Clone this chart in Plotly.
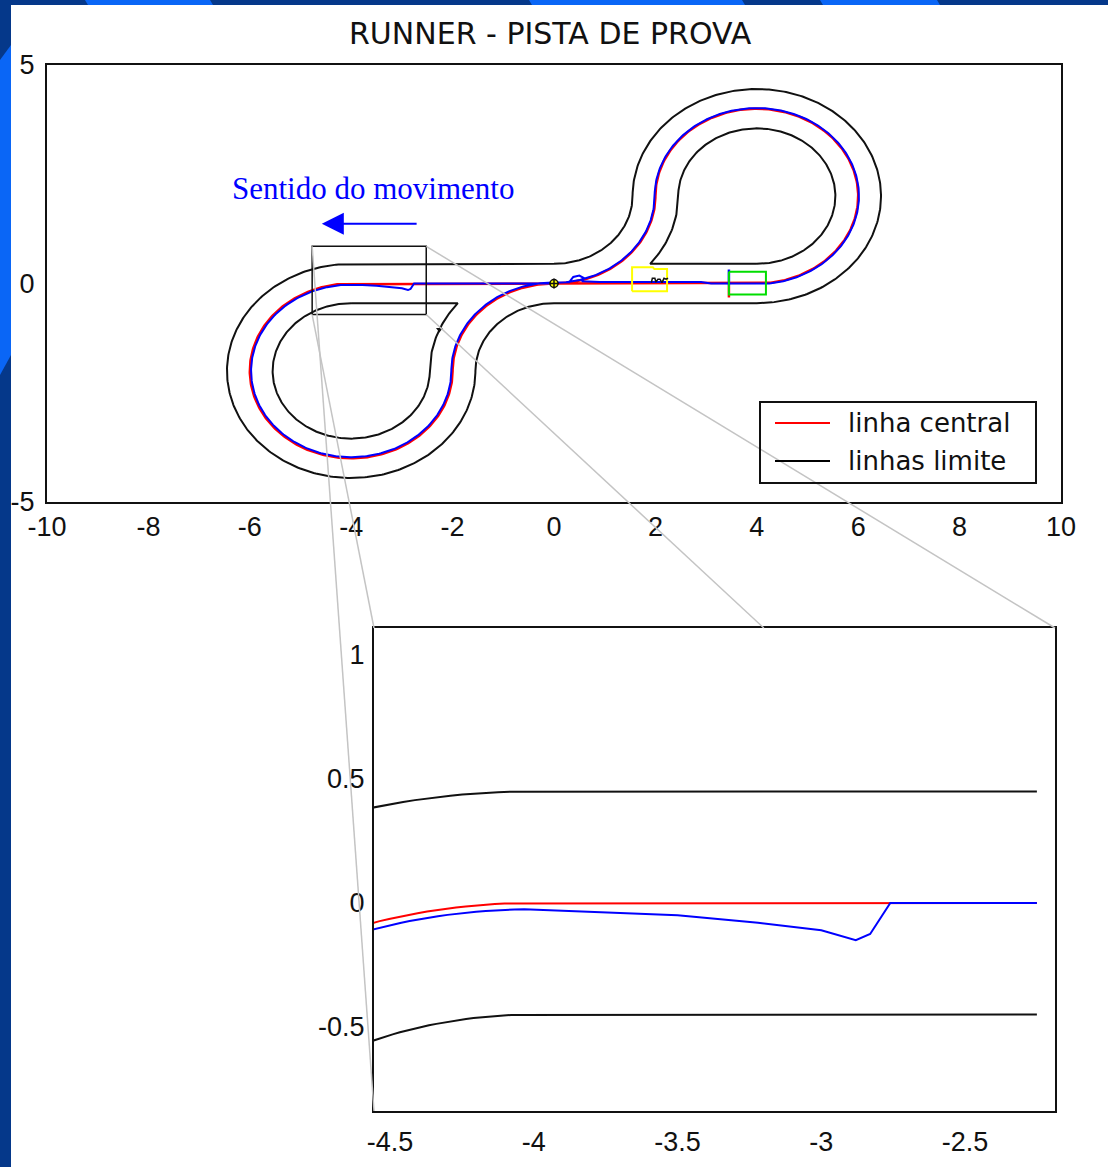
import numpy as np
import plotly.graph_objects as go

W, H = 1108, 1167

# ---------------- text ----------------
TITLE = "RUNNER - PISTA DE PROVA"
DIRECTION_LABEL = "Sentido do movimento"
LEGEND_LABELS = ["linha central", "linhas limite"]
LEGEND_COLORS = ["#ff0000", "#000000"]

# ---------------- axes ----------------
TOP_X_RANGE = [-10, 10]
TOP_Y_RANGE = [-5, 5]
TOP_X_TICKS = [-10, -8, -6, -4, -2, 0, 2, 4, 6, 8, 10]
TOP_Y_TICKS = [-5, 0, 5]
ZOOM_X_RANGE = [-4.556, -2.187]
ZOOM_Y_RANGE = [-0.839, 1.109]
ZOOM_X_TICKS = [-4.5, -4, -3.5, -3, -2.5]
ZOOM_Y_TICKS = [-0.5, 0, 0.5, 1]

# ---------------- track geometry (centre line) ----------------
HALF_WIDTH = 0.45
STRAIGHT_X = [-4, 4]                 # shared straight on y = 0
LOOP_CX = [-4, 0, 4, 0]              # arc centres
LOOP_CY = [-2, -2, 2, 2]
LOOP_R = [2, 2, 2, 2]
LOOP_A0 = [90, 180, -90, 0]          # start angle (deg)
LOOP_A1 = [360, 90, 180, -90]        # end angle (deg)

# ---------------- runner trajectory (blue) ----------------
BLUE_WEST_X = [0, -2.76, -2.83, -2.88, -3.0, -3.22, -3.5, -3.78, -4.0]
BLUE_WEST_Y = [0, 0, -0.125, -0.15, -0.11, -0.08, -0.05, -0.036, -0.025]
BLUE_LOOP_R = [1.975, 2.025, 2.015, 1.985]
BLUE_EAST_X = [0, 0.3, 0.38, 0.5, 0.6, 0.55, 0.9, 2.9, 3.1, 4.0]
BLUE_EAST_Y = [0.025, 0.03, 0.15, 0.18, 0.12, 0.05, 0.035, 0.035, 0, 0]
ZOOM_END_X = -2.25

# ---------------- markers ----------------
START_LINE_X = [3.45, 3.45]
START_LINE_BLUE_Y = [0.32, -0.05]
START_LINE_RED_Y = [-0.05, -0.32]
YELLOW_BOX_X = [1.54, 1.54, 1.95, 1.98, 2.23, 2.23, 1.54]
YELLOW_BOX_Y = [-0.18, 0.37, 0.37, 0.33, 0.33, -0.18, -0.18]
GREEN_BOX_X = [3.45, 4.18, 4.18, 3.45, 3.45]
GREEN_BOX_Y = [0.27, 0.27, -0.25, -0.25, 0.27]
SQUIGGLE_X = [1.92, 1.94, 1.99, 2.01, 2.05, 2.09, 2.13, 2.17, 2.21, 2.25]
SQUIGGLE_Y = [0.02, 0.12, 0.12, 0.03, 0.1, 0.1, 0.02, 0.12, 0.1, 0.12]
ORIGIN_MARK = (0, 0)
INNER_MARK = (-2.26, -1.05)
ZOOM_BOX_X = [-4.77, -2.52]
ZOOM_BOX_Y = [-0.71, 0.85]
ARROW_TAIL = (-2.68, 1.37)
ARROW_HEAD = (-4.58, 1.37)
GUIDE_FROM = [(-4.77, 0.85), (-4.77, -0.71), (-2.52, 0.85), (-2.52, -0.71)]
GUIDE_TO = [(ZOOM_X_RANGE[0], ZOOM_Y_RANGE[0]), (ZOOM_X_RANGE[0], ZOOM_Y_RANGE[1]),
            (ZOOM_X_RANGE[1], ZOOM_Y_RANGE[1]), (-3.2, ZOOM_Y_RANGE[1])]

# ---------------- layout (pixels) ----------------
TOP_DOM_X = [47 / W, 1061 / W]
TOP_DOM_Y = [1 - 502 / H, 1 - 65 / H]
ZOOM_DOM_X = [374 / W, 1055 / W]
ZOOM_DOM_Y = [1 - 1111 / H, 1 - 628 / H]


def arc(cx, cy, r, a0, a1):
    n = int(abs(a1 - a0)) + 2
    t = np.radians(np.linspace(a0, a1, n))
    return list(cx + r * np.cos(t)), list(cy + r * np.sin(t))


def join(*parts):
    xs, ys = [], []
    for px_, py_ in parts:
        xs += list(px_)
        ys += list(py_)
    return xs, ys


w = HALF_WIDTH
cx, cy, R, A0, A1 = LOOP_CX, LOOP_CY, LOOP_R, LOOP_A0, LOOP_A1

# centre line
red_x, red_y = join(([0, STRAIGHT_X[0]], [0, 0]),
                    arc(cx[0], cy[0], R[0], A0[0], A1[0]),
                    arc(cx[1], cy[1], R[1], A0[1], A1[1]),
                    ([0, STRAIGHT_X[1]], [0, 0]),
                    arc(cx[2], cy[2], R[2], A0[2], A1[2]),
                    arc(cx[3], cy[3], R[3], A0[3], A1[3]))

# outer boundary
out_x, out_y = join(([0, STRAIGHT_X[0]], [w, w]),
                    arc(cx[0], cy[0], R[0] + w, A0[0], A1[0]),
                    arc(cx[1], cy[1], R[1] - w, A0[1], A1[1]),
                    ([0, STRAIGHT_X[1]], [-w, -w]),
                    arc(cx[2], cy[2], R[2] + w, A0[2], A1[2]),
                    arc(cx[3], cy[3], R[3] - w, A0[3], A1[3]),
                    ([0], [w]))

# inner boundaries (teardrops)
th1 = 180 - np.degrees(np.arcsin((-w - cy[1]) / (R[1] + w)))
th3 = -np.degrees(np.arcsin((cy[3] - w) / (R[3] + w)))
inl_x, inl_y = join(([STRAIGHT_X[0]], [-w]),
                    arc(cx[0], cy[0], R[0] - w, A0[0], A1[0]),
                    arc(cx[1], cy[1], R[1] + w, A0[1], th1),
                    ([STRAIGHT_X[0]], [-w]))
inr_x, inr_y = join(([STRAIGHT_X[1]], [w]),
                    arc(cx[2], cy[2], R[2] - w, A0[2], A1[2]),
                    arc(cx[3], cy[3], R[3] + w, A0[3], th3),
                    ([STRAIGHT_X[1]], [w]))

# runner
blue_x, blue_y = join((BLUE_WEST_X, BLUE_WEST_Y),
                      arc(cx[0], cy[0], BLUE_LOOP_R[0], A0[0], A1[0]),
                      arc(cx[1], cy[1], BLUE_LOOP_R[1], A0[1], A1[1]),
                      (BLUE_EAST_X, BLUE_EAST_Y),
                      arc(cx[2], cy[2], BLUE_LOOP_R[2], A0[2], A1[2]),
                      arc(cx[3], cy[3], BLUE_LOOP_R[3], A0[3], A1[3]))

# zoomed detail data (trimmed at ZOOM_END_X)
z_red = join(([ZOOM_END_X, STRAIGHT_X[0]], [0, 0]), arc(cx[0], cy[0], R[0], 90, 125))
z_out = join(([ZOOM_END_X, STRAIGHT_X[0]], [w, w]), arc(cx[0], cy[0], R[0] + w, 90, 125))
z_in = join(([ZOOM_END_X, STRAIGHT_X[0]], [-w, -w]), arc(cx[0], cy[0], R[0] - w, 90, 125))
wx = [ZOOM_END_X] + [x for x in BLUE_WEST_X if x < ZOOM_END_X]
wy = [0] + [y for x, y in zip(BLUE_WEST_X, BLUE_WEST_Y) if x < ZOOM_END_X]
z_blue = join((wx, wy), arc(cx[0], cy[0], BLUE_LOOP_R[0], 90, 125))

fig = go.Figure()


def line(xy, color, width, xa="x", ya="y"):
    fig.add_trace(go.Scatter(x=xy[0], y=xy[1], mode="lines", xaxis=xa, yaxis=ya,
                             line=dict(color=color, width=width), showlegend=False,
                             hoverinfo="skip"))


BLACK = "#111111"
RED = "#ff0000"
BLUE = "#0000ff"

# top plot
line((out_x, out_y), BLACK, 2)
line((inl_x, inl_y), BLACK, 2)
line((inr_x, inr_y), BLACK, 2)
line((red_x, red_y), RED, 2.5)
line((blue_x, blue_y), BLUE, 2)
line((START_LINE_X, START_LINE_BLUE_Y), BLUE, 2.5)
line((START_LINE_X, START_LINE_RED_Y), RED, 2.5)
line((YELLOW_BOX_X, YELLOW_BOX_Y), "#ffff00", 2)
line((GREEN_BOX_X, GREEN_BOX_Y), "#00dd00", 2)
line((SQUIGGLE_X, SQUIGGLE_Y), BLACK, 1.5)
line(([ZOOM_BOX_X[0], ZOOM_BOX_X[1], ZOOM_BOX_X[1], ZOOM_BOX_X[0], ZOOM_BOX_X[0]],
      [ZOOM_BOX_Y[0], ZOOM_BOX_Y[0], ZOOM_BOX_Y[1], ZOOM_BOX_Y[1], ZOOM_BOX_Y[0]]), BLACK, 1.5)
fig.add_trace(go.Scatter(x=[ORIGIN_MARK[0]], y=[ORIGIN_MARK[1]], mode="markers", showlegend=False,
                         marker=dict(symbol="circle", size=8, color="#ffff00",
                                     line=dict(color=BLACK, width=1.5))))
fig.add_trace(go.Scatter(x=[ORIGIN_MARK[0]], y=[ORIGIN_MARK[1]], mode="markers", showlegend=False,
                         marker=dict(symbol="cross-thin", size=7, color=BLACK,
                                     line=dict(color=BLACK, width=1.5))))
fig.add_trace(go.Scatter(x=[INNER_MARK[0]], y=[INNER_MARK[1]], mode="markers", showlegend=False,
                         marker=dict(symbol="triangle-down", size=6, color=BLACK)))

# zoom plot
line(z_out, BLACK, 2, "x2", "y2")
line(z_in, BLACK, 2, "x2", "y2")
line(z_red, RED, 2, "x2", "y2")
line(z_blue, BLUE, 2, "x2", "y2")

TICKFONT = dict(family="Liberation Sans, Arial, sans-serif", size=27, color="#111111")


def fmt(v):
    return f"{v:g}"


axis_common = dict(showline=True, mirror=True, linecolor="#111111", linewidth=2,
                   ticks="", showgrid=False, zeroline=False, tickfont=TICKFONT,
                   automargin=False, fixedrange=True)

fig.update_layout(
    width=W, height=H, autosize=False,
    margin=dict(l=0, r=0, t=0, b=0),
    paper_bgcolor="#05388a", plot_bgcolor="#ffffff",
    xaxis=dict(domain=TOP_DOM_X, range=TOP_X_RANGE, tickvals=TOP_X_TICKS,
               ticktext=[fmt(v) for v in TOP_X_TICKS], anchor="y",
               ticklabelstandoff=0, **axis_common),
    yaxis=dict(domain=TOP_DOM_Y, range=TOP_Y_RANGE, tickvals=TOP_Y_TICKS,
               ticktext=[fmt(v) for v in TOP_Y_TICKS], anchor="x",
               ticklabelstandoff=5, **axis_common),
    xaxis2=dict(domain=ZOOM_DOM_X, range=ZOOM_X_RANGE, tickvals=ZOOM_X_TICKS,
                ticktext=[fmt(v) for v in ZOOM_X_TICKS], anchor="y2",
                ticklabelstandoff=6, **axis_common),
    yaxis2=dict(domain=ZOOM_DOM_Y, range=ZOOM_Y_RANGE, tickvals=ZOOM_Y_TICKS,
                ticktext=[fmt(v) for v in ZOOM_Y_TICKS], anchor="x2",
                ticklabelstandoff=2, **axis_common),
)


def px(xp, yp):
    return xp / W, 1 - yp / H


def d2p(x, y, dx, dy, rx, ry):
    return (dx[0] + (x - rx[0]) / (rx[1] - rx[0]) * (dx[1] - dx[0]),
            dy[0] + (y - ry[0]) / (ry[1] - ry[0]) * (dy[1] - dy[0]))


shapes = []


def poly(points, color):
    pts = [px(a, b) for a, b in points]
    path = "M " + " L ".join(f"{a:.5f},{b:.5f}" for a, b in pts) + " Z"
    shapes.append(dict(type="path", xref="paper", yref="paper", path=path,
                       fillcolor=color, line=dict(width=0), layer="below"))


# slide background decoration
BRIGHT = "#0a66f6"
poly([(85, 0), (210, 0), (213, 5), (88, 5)], BRIGHT)
poly([(529, 0), (742, 0), (745, 5), (532, 5)], BRIGHT)
poly([(820, 0), (937, 0), (940, 5), (823, 5)], BRIGHT)
poly([(0, 60), (11, 45), (11, 355), (0, 375)], BRIGHT)
poly([(11, 5), (W, 5), (W, H), (11, H)], "#ffffff")

# guide lines from the zoom rectangle to the detail plot
for (fx, fy), (tx, ty) in zip(GUIDE_FROM, GUIDE_TO):
    a = d2p(fx, fy, TOP_DOM_X, TOP_DOM_Y, TOP_X_RANGE, TOP_Y_RANGE)
    b = d2p(tx, ty, ZOOM_DOM_X, ZOOM_DOM_Y, ZOOM_X_RANGE, ZOOM_Y_RANGE)
    shapes.append(dict(type="line", xref="paper", yref="paper", x0=a[0], y0=a[1],
                       x1=b[0], y1=b[1], line=dict(color="#c4c4c4", width=1.5),
                       layer="above"))

# manual legend
lx0, ly0 = px(760, 402)
lx1, ly1 = px(1036, 483)
shapes.append(dict(type="rect", xref="paper", yref="paper", x0=lx0, y0=ly0, x1=lx1, y1=ly1,
                   line=dict(color="#111111", width=2), fillcolor="rgba(0,0,0,0)",
                   layer="above"))
annotations = []
for i, (lab, col) in enumerate(zip(LEGEND_LABELS, LEGEND_COLORS)):
    yy = 423 + 38 * i
    a = px(775, yy)
    b = px(830, yy)
    shapes.append(dict(type="line", xref="paper", yref="paper", x0=a[0], y0=a[1],
                       x1=b[0], y1=b[1], line=dict(color=col, width=2), layer="above"))
    t = px(846, yy)
    annotations.append(dict(x=t[0], y=t[1], xref="paper", yref="paper", text=lab,
                            showarrow=False, xanchor="left", yanchor="middle",
                            font=dict(family="DejaVu Sans, Verdana, sans-serif", size=26,
                                      color="#111111")))

tt = px(550, 34)
annotations.append(dict(x=tt[0], y=tt[1], xref="paper", yref="paper", text=TITLE,
                        showarrow=False, xanchor="center", yanchor="middle",
                        font=dict(family="DejaVu Sans, sans-serif", size=30, color="#111111")))
sd = px(230, 188)
annotations.append(dict(x=sd[0], y=sd[1], xref="paper", yref="paper", text=DIRECTION_LABEL,
                        showarrow=False, xanchor="left", yanchor="middle",
                        font=dict(family="Liberation Serif, Times New Roman, serif", size=31,
                                  color="#0000ff")))
annotations.append(dict(x=ARROW_HEAD[0], y=ARROW_HEAD[1], ax=ARROW_TAIL[0], ay=ARROW_TAIL[1],
                        xref="x", yref="y", axref="x", ayref="y", text="", showarrow=True,
                        arrowhead=2, arrowsize=2.2, arrowwidth=2, arrowcolor="#0000ff"))

fig.update_layout(shapes=shapes, annotations=annotations)
fig.write_html("out.html",
               config={"displayModeBar": False},
               post_script="document.body.style.margin='0px';"
                           "document.body.style.overflow='hidden';")
